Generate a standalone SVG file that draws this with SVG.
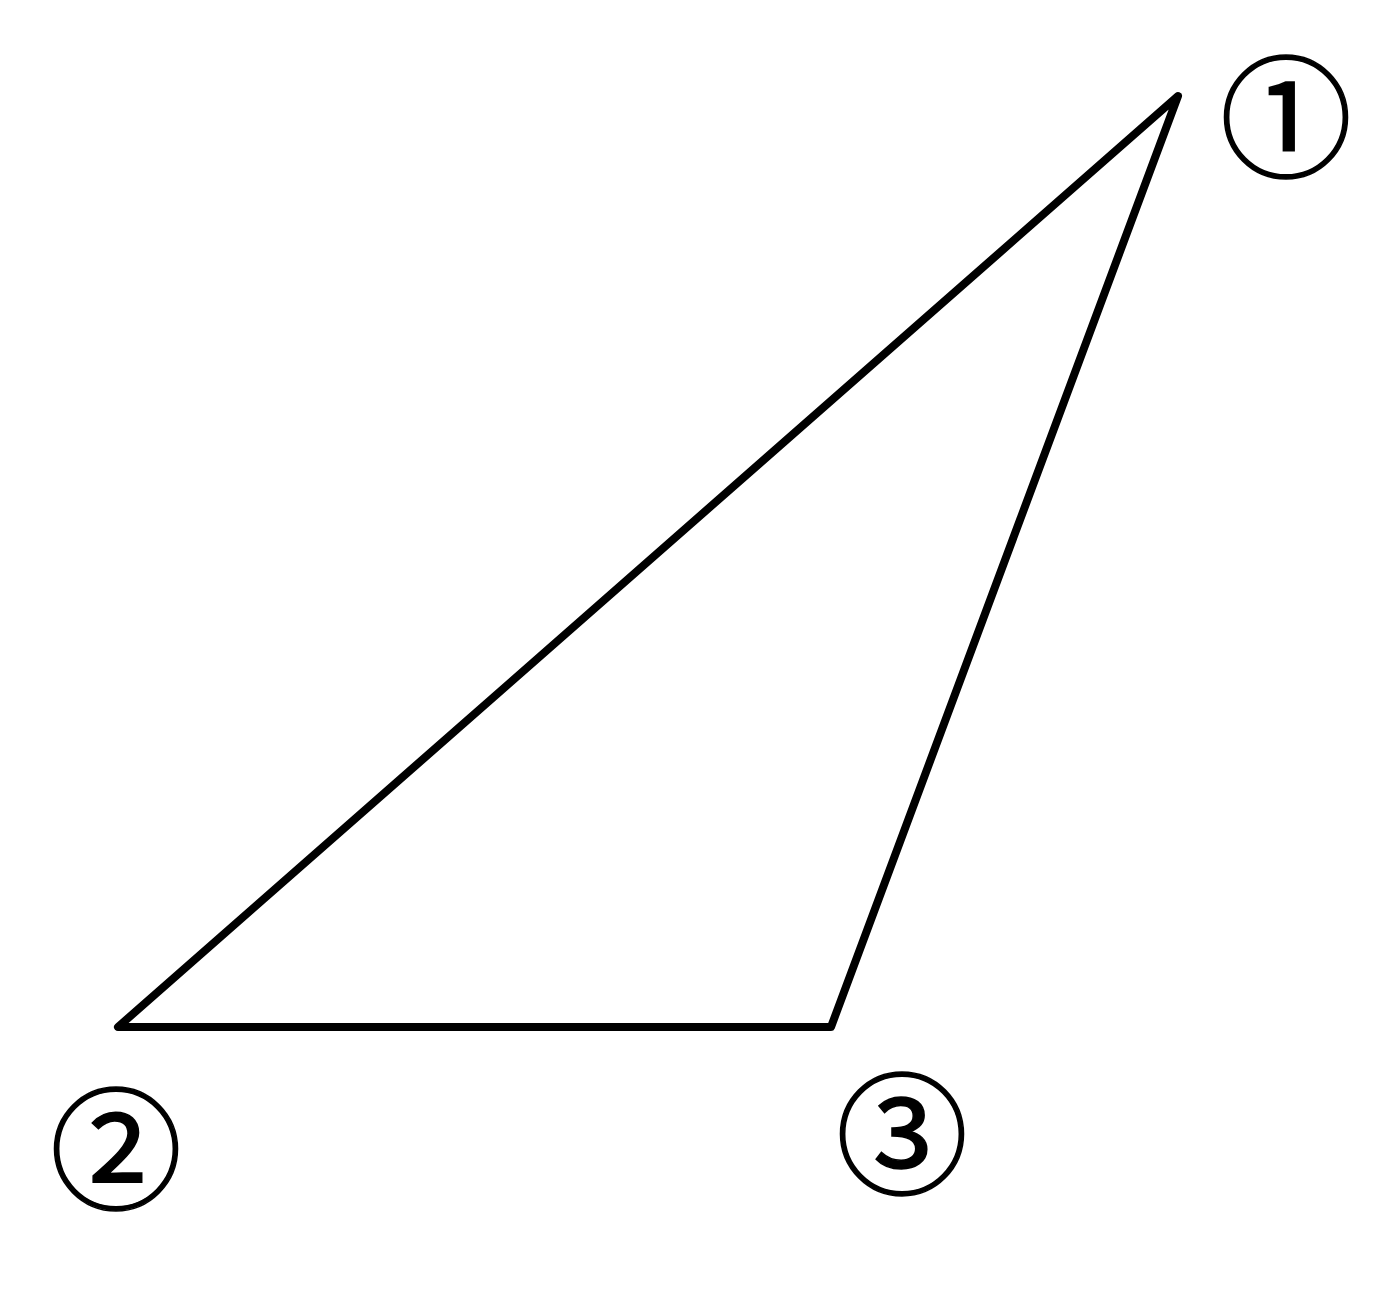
<svg xmlns="http://www.w3.org/2000/svg" width="1398" height="1295" viewBox="0 0 1398 1295">
<style>
.edge{fill:none;stroke:#000;stroke-width:8;stroke-linejoin:round;stroke-linecap:round}
.lbl{font-family:"Noto Sans CJK JP","Noto Sans",sans-serif;font-size:132px;fill:#000;stroke:#000;stroke-width:1.5;text-anchor:middle;dominant-baseline:central}
</style>
<rect width="1398" height="1295" fill="#fff"/>
<g id="connectors">
<polygon class="edge" points="1178,96 118,1027 831,1027"/>
</g>
<g id="node1"><text class="lbl" x="1286" y="109">①</text></g>
<g id="node2"><text class="lbl" x="116" y="1141">②</text></g>
<g id="node3"><text class="lbl" x="902" y="1126">③</text></g>
</svg>
